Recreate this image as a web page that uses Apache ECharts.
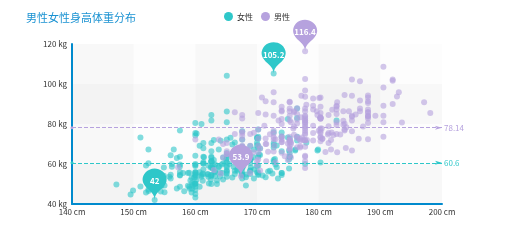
<!DOCTYPE html>
<html><head><meta charset="utf-8">
<script src="https://cdn.jsdelivr.net/npm/echarts@6/dist/echarts.min.js"></script>
<style>html,body{margin:0;padding:0;background:#fff}#c{width:506px;height:246px}</style>
</head><body><div id="c"></div>
<script>
var titleText = '男性女性身高体重分布';
var seriesNames = ['女性', '男性'];
var femaleData = [[161.2, 51.6], [167.5, 59.0], [159.5, 49.2], [157.0, 63.0], [155.8, 53.6], [170.0, 59.0], [159.1, 47.6], [166.0, 69.8], [176.2, 66.8], [160.2, 75.2], [172.5, 55.2], [170.9, 54.2], [172.9, 62.5], [153.4, 42.0], [160.0, 50.0], [147.2, 49.8], [168.2, 49.2], [175.0, 73.2], [157.0, 47.8], [167.6, 68.8], [159.5, 50.6], [175.0, 82.5], [166.8, 57.2], [176.5, 87.8], [170.2, 72.8], [174.0, 54.5], [173.0, 59.8], [179.9, 67.3], [170.5, 67.8], [160.0, 47.0], [154.4, 46.2], [162.0, 55.0], [176.5, 83.0], [160.0, 54.4], [152.0, 45.8], [162.1, 53.6], [170.0, 73.2], [160.2, 52.1], [161.3, 67.9], [166.4, 56.6], [168.9, 62.3], [163.8, 58.5], [167.6, 54.5], [160.0, 50.2], [161.3, 60.3], [167.6, 58.3], [165.1, 56.2], [160.0, 50.2], [170.0, 72.9], [157.5, 59.8], [167.6, 61.0], [160.7, 69.1], [163.2, 55.9], [152.4, 46.5], [157.5, 54.3], [168.3, 54.8], [180.3, 60.7], [165.5, 60.0], [165.0, 62.0], [164.5, 60.3], [156.0, 52.7], [160.0, 74.3], [163.0, 62.0], [165.7, 73.1], [161.0, 80.0], [162.0, 54.7], [166.0, 53.2], [174.0, 75.7], [172.7, 61.1], [167.6, 55.7], [151.1, 48.7], [164.5, 52.3], [163.5, 50.0], [152.0, 59.3], [169.0, 62.5], [164.0, 55.7], [161.2, 54.8], [155.0, 45.9], [170.0, 70.6], [176.2, 67.2], [170.0, 69.4], [162.5, 58.2], [170.3, 64.8], [164.1, 71.6], [169.5, 52.8], [163.2, 59.8], [154.5, 49.0], [159.8, 50.0], [173.2, 69.2], [170.0, 55.9], [161.4, 63.4], [169.0, 58.2], [166.2, 58.6], [159.4, 45.7], [162.5, 52.2], [159.0, 48.6], [162.8, 57.8], [159.0, 55.6], [179.8, 66.8], [162.9, 59.4], [161.0, 53.6], [151.1, 73.2], [168.2, 53.4], [168.9, 69.0], [173.2, 58.4], [171.8, 56.2], [178.0, 70.6], [164.3, 59.8], [163.0, 72.0], [168.5, 65.2], [166.8, 56.6], [172.7, 105.2], [163.5, 51.8], [169.4, 63.4], [167.8, 59.0], [159.5, 47.6], [167.6, 63.0], [161.2, 55.2], [160.0, 45.0], [163.2, 54.0], [162.2, 50.2], [161.3, 60.2], [149.5, 44.8], [157.5, 58.8], [163.2, 56.4], [172.7, 62.0], [155.0, 49.2], [156.5, 67.2], [164.0, 53.8], [160.9, 54.4], [162.8, 58.0], [167.0, 59.8], [160.0, 54.8], [160.0, 43.2], [168.9, 60.5], [158.2, 46.4], [156.0, 64.4], [160.0, 48.8], [167.1, 62.2], [158.0, 55.5], [167.6, 57.8], [156.0, 54.6], [162.1, 59.2], [173.4, 52.7], [159.8, 53.2], [170.5, 64.5], [159.2, 51.8], [157.5, 56.0], [161.3, 63.6], [162.6, 63.2], [160.0, 59.5], [168.9, 56.8], [165.1, 64.1], [162.6, 50.0], [165.1, 72.3], [166.4, 55.0], [160.0, 55.9], [152.4, 60.4], [170.2, 69.1], [162.6, 84.5], [170.2, 55.9], [158.8, 55.5], [172.7, 69.5], [167.6, 76.4], [162.6, 61.4], [167.6, 65.9], [156.2, 58.6], [175.2, 66.8], [172.1, 56.6], [162.6, 58.6], [160.0, 55.9], [165.1, 59.1], [182.9, 81.8], [166.4, 70.7], [165.1, 56.8], [177.8, 60.0], [165.1, 58.2], [175.3, 72.7], [154.9, 54.1], [158.8, 49.1], [172.7, 75.9], [168.9, 55.0], [161.3, 57.3], [167.6, 55.0], [165.1, 65.5], [175.3, 65.5], [157.5, 48.6], [163.8, 58.6], [167.6, 63.6], [165.1, 55.2], [165.1, 62.7], [168.9, 56.6], [162.6, 53.9], [164.5, 63.2], [176.5, 73.6], [168.9, 62.0], [175.3, 63.6], [159.4, 53.2], [160.0, 53.4], [170.2, 55.0], [162.6, 70.5], [167.6, 54.5], [162.6, 54.5], [160.7, 55.9], [160.0, 59.0], [157.5, 63.6], [162.6, 54.5], [152.4, 47.3], [170.2, 67.7], [165.1, 80.9], [172.7, 70.5], [165.1, 60.9], [170.2, 63.6], [170.2, 54.5], [170.2, 59.1], [161.3, 70.5], [167.6, 52.7], [167.6, 62.7], [165.1, 86.3], [162.6, 66.4], [152.4, 67.3], [168.9, 63.0], [170.2, 73.6], [175.2, 62.3], [175.2, 57.7], [160.0, 55.4], [165.1, 104.1], [174.0, 55.5], [170.2, 77.3], [160.0, 80.5], [167.6, 64.5], [167.6, 72.3], [167.6, 61.4], [154.9, 58.2], [162.6, 81.8], [175.3, 63.6], [171.4, 53.4], [157.5, 54.5], [165.1, 53.6], [160.0, 60.0], [174.0, 73.6], [162.6, 61.4], [174.0, 55.5], [162.6, 63.6], [161.3, 60.9], [156.2, 60.0], [149.9, 46.8], [169.5, 57.3], [160.0, 64.1], [175.3, 63.6], [169.5, 67.3], [160.0, 75.5], [172.7, 68.2], [162.6, 61.4], [157.5, 76.8], [176.5, 71.8], [164.4, 55.5], [160.7, 48.6], [174.0, 66.4], [163.8, 67.3]];
var maleData = [[174.0, 65.6], [175.3, 71.8], [193.5, 80.7], [186.5, 72.6], [187.2, 78.8], [181.5, 74.8], [184.0, 86.4], [184.5, 78.4], [175.0, 62.0], [184.0, 81.6], [180.0, 76.6], [177.8, 83.6], [192.0, 90.0], [176.0, 74.6], [174.0, 71.0], [184.0, 79.6], [192.7, 93.8], [171.5, 70.0], [173.0, 72.4], [176.0, 85.9], [176.0, 78.8], [180.5, 77.8], [172.7, 66.2], [176.0, 86.4], [173.5, 81.8], [178.0, 89.6], [180.3, 82.8], [180.3, 76.4], [164.5, 63.2], [173.0, 60.9], [183.5, 74.8], [175.5, 70.0], [188.0, 72.4], [189.2, 84.1], [172.8, 69.1], [170.0, 59.5], [182.0, 67.2], [170.0, 61.3], [177.8, 68.6], [184.2, 80.1], [186.7, 87.8], [171.4, 84.7], [172.7, 73.4], [175.3, 72.1], [180.3, 82.6], [182.9, 88.7], [188.0, 84.1], [177.2, 94.1], [172.1, 74.9], [167.0, 59.1], [169.5, 75.6], [174.0, 86.2], [172.7, 75.3], [182.2, 87.1], [164.1, 55.2], [163.0, 57.0], [171.5, 61.4], [184.2, 76.8], [174.0, 86.8], [174.0, 72.2], [177.0, 71.6], [186.0, 84.8], [167.0, 68.2], [171.8, 66.1], [182.0, 72.0], [167.0, 64.6], [177.8, 74.8], [164.5, 70.0], [192.0, 101.6], [175.5, 63.2], [171.2, 79.1], [181.6, 78.9], [167.4, 67.7], [181.1, 66.0], [177.0, 68.2], [174.5, 63.9], [177.5, 72.0], [170.5, 56.8], [182.4, 74.5], [197.1, 90.9], [180.1, 93.0], [175.5, 80.9], [180.6, 72.7], [184.4, 68.0], [175.5, 70.9], [180.6, 72.5], [177.0, 72.5], [177.1, 83.4], [181.6, 75.5], [176.5, 73.0], [175.0, 70.2], [174.0, 73.4], [165.1, 70.5], [177.0, 68.9], [192.0, 102.3], [176.5, 68.4], [169.4, 65.9], [182.1, 75.7], [179.8, 84.5], [175.3, 87.7], [184.9, 86.4], [177.3, 73.2], [167.4, 53.9], [178.1, 72.0], [168.9, 55.5], [157.2, 58.4], [180.3, 83.2], [170.2, 72.7], [177.8, 64.1], [172.7, 72.3], [165.1, 65.0], [186.7, 86.4], [165.1, 65.0], [174.0, 88.6], [175.3, 84.1], [185.4, 66.8], [177.8, 75.5], [180.3, 93.2], [180.3, 82.7], [177.8, 58.0], [177.8, 79.5], [177.8, 78.6], [177.8, 71.8], [177.8, 116.4], [163.8, 72.2], [188.0, 83.6], [198.1, 85.5], [175.3, 90.9], [166.4, 85.9], [190.5, 89.1], [166.4, 75.0], [177.8, 77.7], [179.7, 86.4], [172.7, 90.9], [190.5, 73.6], [185.4, 76.4], [168.9, 69.1], [167.6, 84.5], [175.3, 64.5], [170.2, 69.1], [190.5, 108.6], [177.8, 86.4], [190.5, 80.9], [177.8, 87.7], [184.2, 94.5], [176.5, 80.2], [177.8, 72.0], [180.3, 71.4], [171.4, 72.7], [172.7, 84.1], [172.7, 76.8], [177.8, 63.6], [177.8, 80.9], [182.9, 80.9], [170.2, 85.5], [167.6, 68.6], [175.3, 67.7], [165.1, 66.4], [185.4, 102.3], [181.6, 70.5], [172.7, 95.9], [190.5, 84.1], [179.1, 87.3], [175.3, 71.8], [170.2, 65.9], [193.0, 95.9], [171.4, 91.4], [177.8, 81.8], [177.8, 96.8], [167.6, 69.1], [167.6, 82.7], [180.3, 75.5], [182.9, 79.5], [176.5, 73.6], [186.7, 91.8], [188.0, 84.1], [188.0, 85.9], [177.8, 81.8], [174.0, 82.5], [177.8, 80.5], [171.4, 70.0], [185.4, 81.8], [185.4, 84.1], [188.0, 90.5], [188.0, 91.4], [182.9, 89.1], [176.5, 85.0], [175.3, 69.1], [175.3, 73.6], [188.0, 80.5], [188.0, 82.7], [175.3, 86.4], [170.5, 67.7], [179.1, 92.7], [177.8, 93.6], [175.3, 70.9], [182.9, 75.0], [170.8, 93.2], [188.0, 93.2], [180.3, 77.7], [177.8, 61.4], [185.4, 94.1], [168.9, 75.0], [185.4, 83.6], [180.3, 85.5], [174.0, 73.9], [167.6, 66.8], [182.9, 87.3], [160.0, 72.3], [180.3, 88.6], [167.6, 75.5], [186.7, 101.4], [175.3, 91.1], [175.3, 67.3], [175.9, 77.7], [175.3, 81.8], [179.1, 75.5], [181.6, 84.5], [177.8, 76.6], [182.9, 85.0], [177.8, 102.5], [184.2, 77.3], [179.1, 71.8], [176.5, 87.9], [188.0, 94.3], [174.0, 70.9], [167.6, 64.5], [170.2, 77.3], [167.6, 72.3], [188.0, 87.3], [174.0, 80.0], [176.5, 82.3], [180.3, 73.6], [167.6, 74.1], [188.0, 85.9], [180.3, 73.2], [167.6, 76.3], [183.0, 65.9], [183.0, 90.9], [179.1, 89.1], [170.2, 62.3], [177.8, 82.7], [179.1, 79.1], [190.5, 98.2], [177.8, 84.1], [180.3, 83.2], [180.3, 83.2]];
var averageValues = [60.6, 78.14];
var colors = ['#2ec7c9', '#b6a2de'];

var chart = echarts.init(document.getElementById('c'));
function makeSeries(i, data) {
  return {
    name: seriesNames[i], type: 'scatter', data: data, symbolSize: 6,
    itemStyle: { color: colors[i], opacity: 0.6 },
    markPoint: {
      symbol: 'pin', symbolSize: [40, 36],
      label: { color: '#fff', fontSize: 8, fontWeight: 'bold' },
      itemStyle: { color: colors[i], opacity: 1 },
      data: [{ type: 'max', name: '最大值' }, { type: 'min', name: '最小值' }]
    },
    markLine: {
      symbol: ['circle', 'arrow'], symbolSize: [3, 7], silent: true,
      lineStyle: { color: colors[i], type: 'dashed', width: 1, opacity: 1 },
      label: { color: colors[i], fontSize: 8, distance: 2 },
      data: [{ name: '平均值', yAxis: averageValues[i] }]
    }
  };
}
var axisCommon = {
  type: 'value',
  axisLine: { show: true, lineStyle: { color: '#008acd', width: 2 } },
  axisTick: { show: false },
  axisLabel: { color: '#333', fontSize: 8, margin: 5 },
  splitLine: { show: false },
  splitArea: { show: true, areaStyle: { color: ['rgba(200,200,200,0.1)', 'rgba(250,250,250,0.1)'] } }
};
chart.setOption({
  animation: false,
  textStyle: { fontFamily: 'Noto Sans CJK SC, sans-serif' },
  title: { text: titleText, left: 21, top: 7, textStyle: { color: '#1a92d2', fontSize: 11, fontWeight: 'normal' } },
  legend: {
    data: seriesNames, top: 7, left: 219, itemWidth: 9, itemHeight: 9, itemGap: 8,
    icon: 'circle', itemStyle: { opacity: 1 },
    textStyle: { fontSize: 8, color: '#333', padding: [0, 0, 0, -1] }
  },
  grid: { left: 72, right: 64, top: 44, bottom: 42, containLabel: false },
  xAxis: Object.assign({}, axisCommon, { min: 140, max: 200, interval: 10, axisLabel: Object.assign({}, axisCommon.axisLabel, { formatter: '{value} cm', margin: 4 }) }),
  yAxis: Object.assign({}, axisCommon, { min: 40, max: 120, interval: 20, axisLabel: Object.assign({}, axisCommon.axisLabel, { formatter: '{value} kg' }) }),
  series: [makeSeries(0, femaleData), makeSeries(1, maleData)]
});
</script></body></html>
